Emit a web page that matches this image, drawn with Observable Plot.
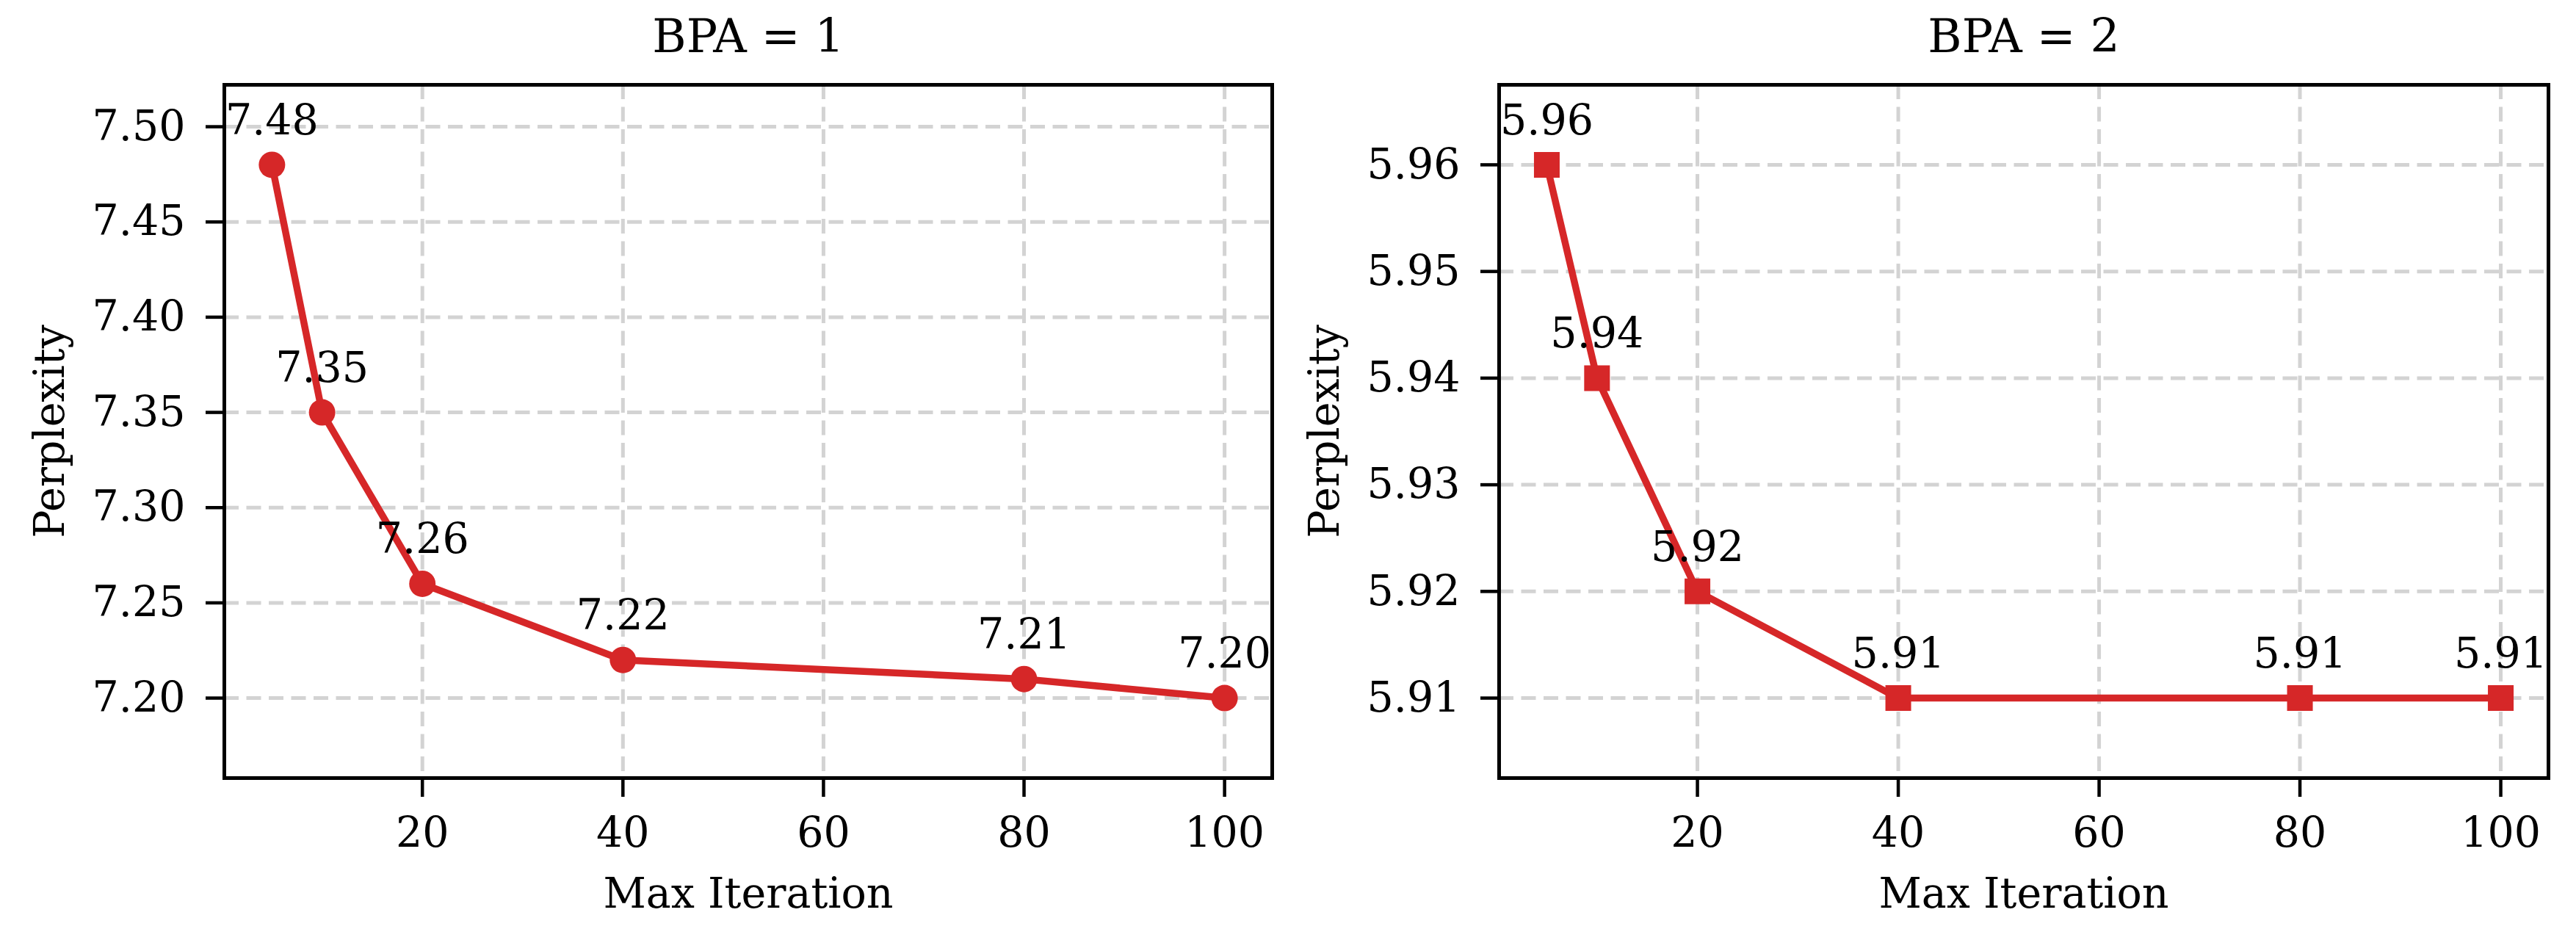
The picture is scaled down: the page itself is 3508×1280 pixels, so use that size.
<!DOCTYPE html>
<html><head><meta charset="utf-8">
<script src="https://cdn.jsdelivr.net/npm/d3@7"></script>
<script src="https://cdn.jsdelivr.net/npm/@observablehq/plot@0.6"></script>
<style>body{margin:0;background:#fff}#wrap{display:flex;width:3508px;height:1280px;background:#fff}</style>
</head><body><div id="wrap"></div>
<script>
const iterations = [5, 10, 20, 40, 80, 100];
const bpa1Perplexity = [7.48, 7.35, 7.26, 7.22, 7.21, 7.20];
const bpa2Perplexity = [5.96, 5.94, 5.92, 5.91, 5.91, 5.91];
const panelTitles = ["BPA = 1", "BPA = 2"];
const xTicks = [20, 40, 60, 80, 100];
const yTicks1 = [7.20, 7.25, 7.30, 7.35, 7.40, 7.45, 7.50];
const yTicks2 = [5.91, 5.92, 5.93, 5.94, 5.95, 5.96];
const xLabel = "Max Iteration";
const yLabel = "Perplexity";

const RED = "#d62728";
const GRID = {stroke: "#d3d3d3", strokeOpacity: 1, strokeWidth: 5, strokeDasharray: "20,10.5"};

function panel({title, values, yTicks, symbol, r, marginLeft, marginRight}) {
  const data = iterations.map((x, i) => ({x, y: values[i]}));
  const lo = d3.min(values), hi = d3.max(values), pad = (hi - lo) * 0.15;
  return Plot.plot({
    width: 1754, height: 1280,
    marginLeft, marginRight, marginTop: 115, marginBottom: 221,
    style: {fontFamily: "'DejaVu Serif', serif", fontSize: "57px", background: "white", color: "black", overflow: "visible"},
    x: {domain: [0.25, 104.75]},
    y: {domain: [lo - pad, hi + pad]},
    marks: [
      Plot.gridX(xTicks, GRID),
      Plot.gridY(yTicks, GRID),
      Plot.line(data, {x: "x", y: "y", stroke: RED, strokeWidth: 9.5}),
      Plot.dot(data, {x: "x", y: "y", symbol, r, fill: RED}),
      Plot.text(data, {x: "x", y: "y", text: d => d3.format(".2f")(d.y), lineAnchor: "bottom", dy: -41.5, fontSize: 57, fill: "black"}),
      Plot.axisX({ticks: xTicks, tickSize: 26, tickPadding: 27.5, strokeWidth: 4.5, label: null, fontSize: 57}),
      Plot.axisY({ticks: yTicks, tickSize: 25, tickPadding: 28, strokeWidth: 4.5, label: null, tickFormat: ".2f", fontSize: 57}),
      Plot.frame({stroke: "black", strokeWidth: 5}),
      Plot.text([title], {frameAnchor: "top", lineAnchor: "bottom", dy: -44.3, fontSize: 63, fill: "black"}),
      Plot.text([xLabel], {frameAnchor: "bottom", lineAnchor: "bottom", dy: 176, fontSize: 57, fill: "black"}),
      Plot.text([yLabel], {frameAnchor: "left", textAnchor: "middle", rotate: -90, lineAnchor: "bottom", dx: -219, fontSize: 57, fill: "black"})
    ]
  });
}

const wrap = document.getElementById("wrap");
wrap.appendChild(panel({title: panelTitles[0], values: bpa1Perplexity, yTicks: yTicks1, symbol: "circle", r: 18, marginLeft: 305, marginRight: 22}));
wrap.appendChild(panel({title: panelTitles[1], values: bpa2Perplexity, yTicks: yTicks2, symbol: "square", r: 19.75, marginLeft: 287, marginRight: 38}));
</script>
</body></html>
